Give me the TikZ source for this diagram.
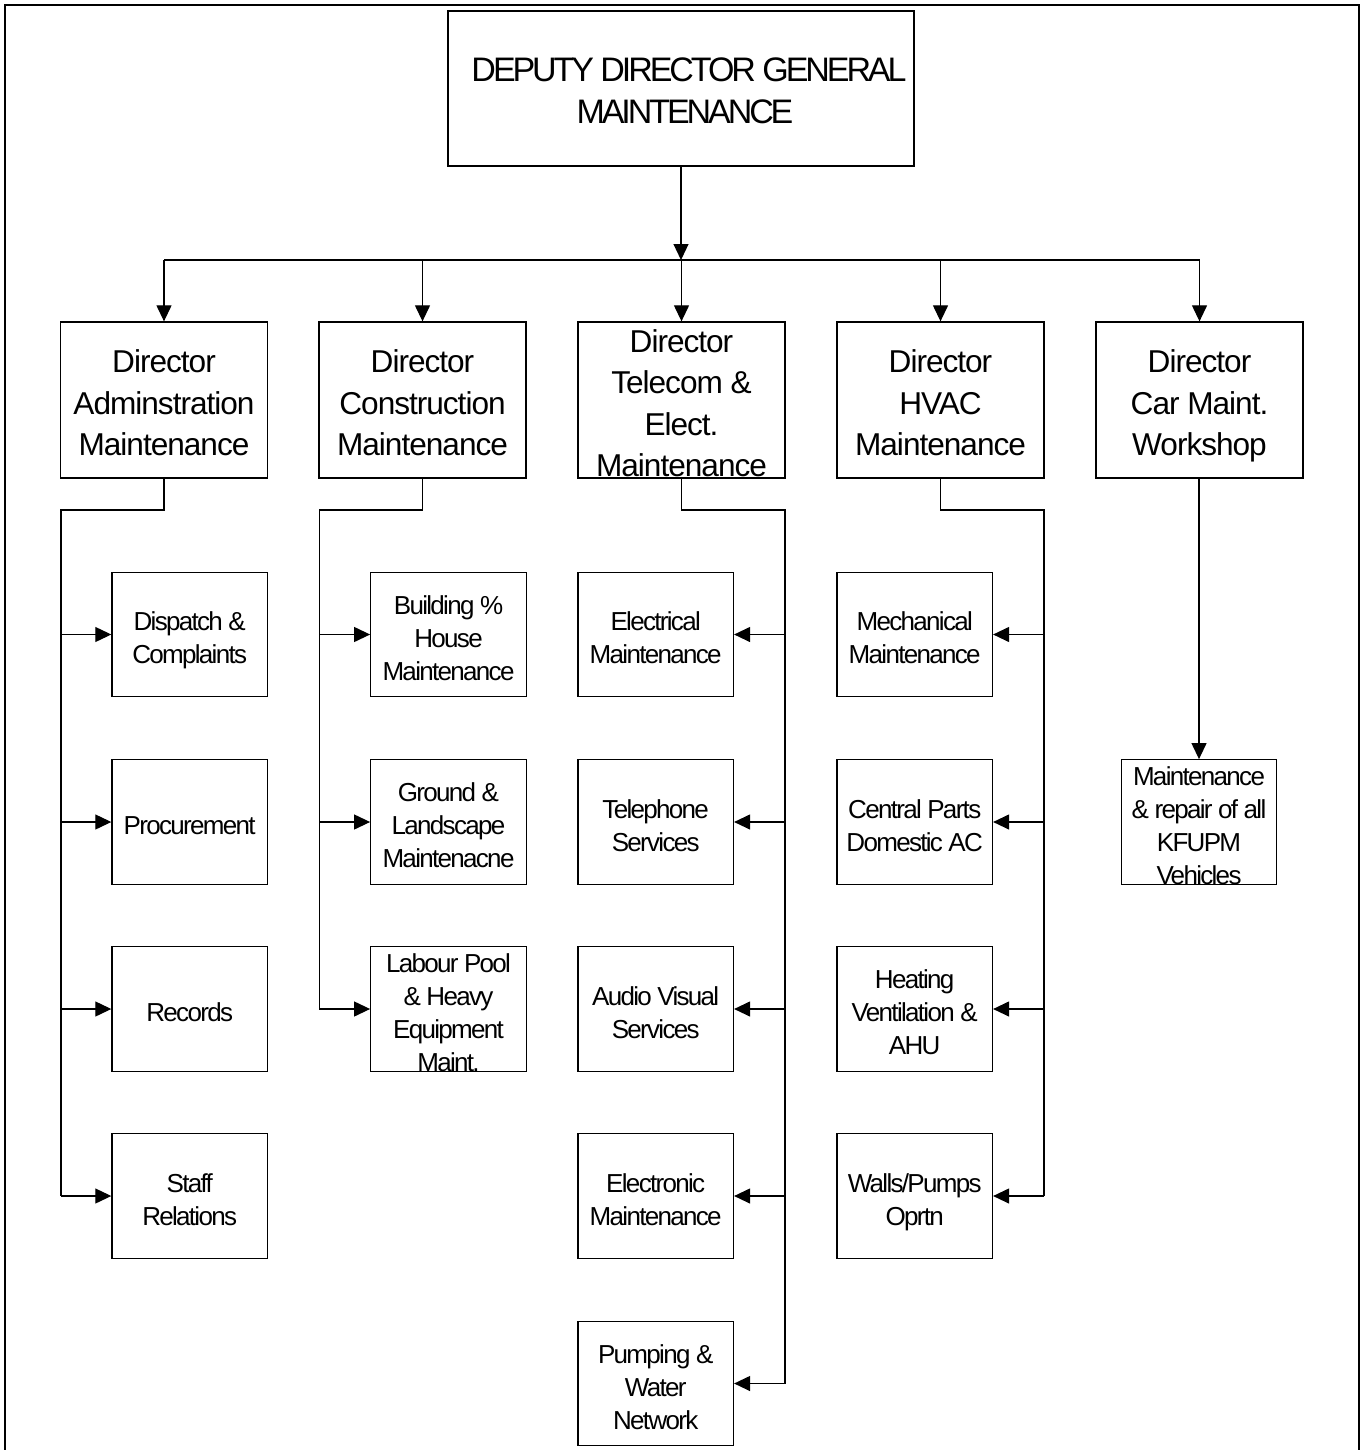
\documentclass[tikz,border=0pt]{standalone}
\usepackage{fontspec}
\setmainfont{Liberation Sans}
\newfontfamily\topfnt[LetterSpace=-9]{Liberation Sans}
\newfontfamily\dirfnt[LetterSpace=-3.2]{Liberation Sans}
\newfontfamily\subfnt[LetterSpace=-6.5]{Liberation Sans}
\usetikzlibrary{arrows.meta}
% last line of a box text: no depth, so every box text sits alike
\newcommand{\lastln}[1]{\raisebox{0pt}[\height][0pt]{#1}}
% struts that fix the height of the first line of a box text
\newcommand{\ftop}{\rule{0pt}{27.3pt}}
\newcommand{\fdir}{\rule{0pt}{28.8pt}}
\newcommand{\fsub}{\rule{0pt}{25pt}}
\begin{document}
\begin{tikzpicture}[x=1pt,y=-1pt,
  box/.style={draw, line width=1.3pt, inner sep=0pt, rectangle, align=center},
  topbox/.style={box, minimum width=466pt, minimum height=155pt, font=\topfnt\fontsize{34}{42}\selectfont},
  dirbox/.style={box, minimum width=207pt, minimum height=156pt, font=\dirfnt\fontsize{31.6}{41.5}\selectfont},
  subbox/.style={box, minimum width=155.5pt, minimum height=124.5pt, font=\subfnt\fontsize{26}{33}\selectfont},
  conn/.style={line width=1.2pt},
  arr/.style={conn, -{Triangle[length=16pt,width=15pt]}},
]
\useasboundingbox (0,0) rectangle (1367,1450);
% outer frame (open at the bottom)
\draw[line width=2pt] (4.5,1450) -- (4.5,5) -- (1358.5,5) -- (1358.5,1450);

% top
\node[topbox] (ddg) at (681,88.5) {\ftop\hspace*{16pt}DEPUTY DIRECTOR GENERAL\\\lastln{\hspace*{8pt}MAINTENANCE}};

% directors
\node[dirbox] (dAdm) at (164,400) {\fdir Director\\Adminstration\\\lastln{Maintenance}};
\node[dirbox] (dCon) at (422.5,400) {\fdir Director\\Construction\\\lastln{Maintenance}};
\node[dirbox] (dTel) at (681.5,400) {\fdir Director\\Telecom \&\\Elect.\\\lastln{Maintenance}};
\node[dirbox] (dHva) at (940.5,400) {\fdir Director\\HVAC\\\lastln{Maintenance}};
\node[dirbox] (dCar) at (1199.5,400) {\fdir Director\\Car Maint.\\\lastln{Workshop}};

% administration subunits
\node[subbox] (aDis) at (189.7,634.5) {\fsub Dispatch \&\\\lastln{Complaints}};
\node[subbox] (aPro) at (189.7,822) {\fsub\lastln{Procurement}};
\node[subbox] (aRec) at (189.7,1009) {\fsub\lastln{Records}};
\node[subbox] (aSta) at (189.7,1196) {\fsub Staff\\\lastln{Relations}};

% construction subunits
\node[subbox] (cBui) at (448.5,634.5) {\fsub Building \%\\House\\\lastln{Maintenance}};
\node[subbox] (cGro) at (448.5,822) {\fsub Ground \&\\Landscape\\\lastln{Maintenacne}};
\node[subbox] (cLab) at (448.5,1009) {\fsub Labour Pool\\\& Heavy\\Equipment\\\lastln{Maint.}};

% telecom subunits
\node[subbox] (tEle) at (655.7,634.5) {\fsub Electrical\\\lastln{Maintenance}};
\node[subbox] (tTel) at (655.7,822) {\fsub Telephone\\\lastln{Services}};
\node[subbox] (tAud) at (655.7,1009) {\fsub Audio Visual\\\lastln{Services}};
\node[subbox] (tElc) at (655.7,1196) {\fsub Electronic\\\lastln{Maintenance}};
\node[subbox] (tPum) at (655.7,1383.5) {\fsub Pumping \&\\Water\\\lastln{Network}};

% HVAC subunits
\node[subbox] (hMec) at (914.7,634.5) {\fsub Mechanical\\\lastln{Maintenance}};
\node[subbox] (hCen) at (914.7,822) {\fsub Central Parts\\\lastln{Domestic AC}};
\node[subbox] (hHea) at (914.7,1009) {\fsub Heating\\Ventilation \&\\\lastln{AHU}};
\node[subbox] (hWal) at (914.7,1196) {\fsub Walls/Pumps\\\lastln{Oprtn}};

% car subunit
\node[subbox] (vCar) at (1199,822) {\fsub Maintenance\\\& repair of all\\KFUPM\\\lastln{Vehicles}};

% bus from the top
\coordinate (busL) at (164,260);
\coordinate (busR) at (1199.5,260);
\draw[conn] (busL) -- (busR);
\draw[arr] (ddg.south) -- (ddg.south |- busL);
\draw[arr] (busL) -- (dAdm.north);
\draw[arr] (dCon.north |- busL) -- (dCon.north);
\draw[arr] (dTel.north |- busL) -- (dTel.north);
\draw[arr] (dHva.north |- busL) -- (dHva.north);
\draw[arr] (busR) -- (dCar.north);

% administration tree
\coordinate (aJ) at (61,510);
\draw[conn] (dAdm.south) -- (dAdm.south |- aJ) -- (aJ) -- (aJ |- aSta.west);
\draw[arr] (aJ |- aDis.west) -- (aDis.west);
\draw[arr] (aJ |- aPro.west) -- (aPro.west);
\draw[arr] (aJ |- aRec.west) -- (aRec.west);
\draw[arr] (aJ |- aSta.west) -- (aSta.west);

% construction tree
\coordinate (cJ) at (319.3,510);
\draw[conn] (dCon.south) -- (dCon.south |- cJ) -- (cJ) -- (cJ |- cLab.west);
\draw[arr] (cJ |- cBui.west) -- (cBui.west);
\draw[arr] (cJ |- cGro.west) -- (cGro.west);
\draw[arr] (cJ |- cLab.west) -- (cLab.west);

% telecom tree
\coordinate (tJ) at (785,510);
\draw[conn] (dTel.south) -- (dTel.south |- tJ) -- (tJ) -- (tJ |- tPum.east);
\draw[arr] (tJ |- tEle.east) -- (tEle.east);
\draw[arr] (tJ |- tTel.east) -- (tTel.east);
\draw[arr] (tJ |- tAud.east) -- (tAud.east);
\draw[arr] (tJ |- tElc.east) -- (tElc.east);
\draw[arr] (tJ |- tPum.east) -- (tPum.east);

% HVAC tree
\coordinate (hJ) at (1044,510);
\draw[conn] (dHva.south) -- (dHva.south |- hJ) -- (hJ) -- (hJ |- hWal.east);
\draw[arr] (hJ |- hMec.east) -- (hMec.east);
\draw[arr] (hJ |- hCen.east) -- (hCen.east);
\draw[arr] (hJ |- hHea.east) -- (hHea.east);
\draw[arr] (hJ |- hWal.east) -- (hWal.east);

% car tree
\draw[arr] (dCar.south -| vCar.north) -- (vCar.north);
\end{tikzpicture}
\end{document}
